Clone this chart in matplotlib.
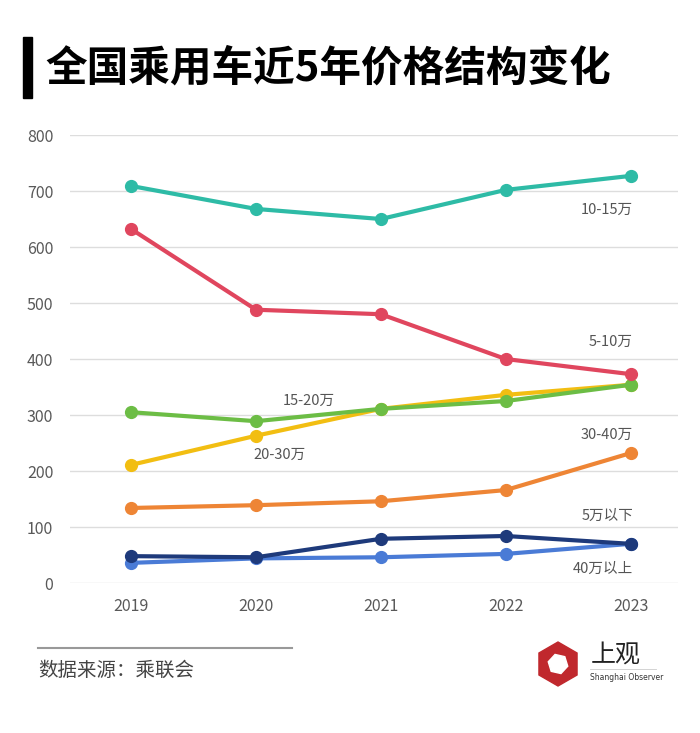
import matplotlib.pyplot as plt
from matplotlib.patches import Rectangle, RegularPolygon

plt.rcParams['font.family'] = ['Noto Sans CJK SC', 'DejaVu Sans']

years = [2019, 2020, 2021, 2022, 2023]
series_names = ['10-15万', '5-10万', '15-20万', '20-30万', '30-40万', '5万以下', '40万以上']
v_10_15 = [709, 668, 650, 702, 727]
v_5_10 = [632, 488, 480, 400, 373]
v_15_20 = [305, 289, 311, 325, 354]
v_20_30 = [211, 263, 311, 336, 354]
v_30_40 = [134, 139, 146, 166, 232]
v_under5 = [48, 46, 79, 84, 70]
v_over40 = [36, 44, 46, 52, 70]
yticks = [0, 100, 200, 300, 400, 500, 600, 700, 800]

colors = ['#2EBBA6', '#E0465E', '#6CBD45', '#F2BE12', '#EE8535', '#1E3A7B', '#4A7BD6']
values = [v_10_15, v_5_10, v_15_20, v_20_30, v_30_40, v_under5, v_over40]
# label anchor (right edge x in years, y in data units)
label_pos = [(2023.02, 666), (2023.02, 430), (2020.63, 325), (2020.40, 228),
             (2023.02, 265), (2023.02, 120), (2023.02, 25)]

fig = plt.figure(figsize=(7, 7.33), dpi=100)
ax = fig.add_axes([0.1, 0.2046, 0.8686, 0.6112])

# draw order: bottom series first so upper ones overlap like the original
order = [6, 5, 4, 3, 2, 1, 0]
for i in order:
    ax.plot(years, values[i], color=colors[i], lw=3, marker='o', ms=8.5,
            solid_capstyle='round', zorder=3)

for name, (lx, ly) in zip(series_names, label_pos):
    ax.text(lx, ly, name, ha='right', va='center', fontsize=10.5, color='#555555')

ax.set_xlim(2018.51, 2023.38)
ax.set_ylim(0, 800)
ax.set_xticks(years)
ax.set_xticklabels([str(y) for y in years])
ax.set_yticks(yticks)
ax.grid(axis='y', color='#dddddd', lw=1)
ax.set_axisbelow(True)
for s in ax.spines.values():
    s.set_visible(False)
ax.tick_params(length=0, labelsize=11.5, colors='#595959')
ax.tick_params(axis='x', pad=11)
ax.tick_params(axis='y', pad=12)

# title with black bar
fig.patches.append(Rectangle((23 / 700, 1 - 98 / 733), 9 / 700, 61 / 733,
                             transform=fig.transFigure, color='black'))
fig.text(45 / 700, 1 - 69 / 733, '全国乘用车近5年价格结构变化', fontsize=30,
         fontweight='heavy', va='center', ha='left', color='black')

# footer
fig.add_artist(plt.Line2D([38 / 700, 292 / 700], [1 - 648 / 733, 1 - 648 / 733],
                          color='#999999', lw=1.5))
fig.text(38 / 700, 1 - 670 / 733, '数据来源：乘联会', fontsize=14, fontweight='light',
         va='center', ha='left', color='#444444')

# logo
logo_ax = fig.add_axes([530 / 700, 1 - 690 / 733, 140 / 700, 52 / 733])
logo_ax.set_xlim(0, 140)
logo_ax.set_ylim(0, 52)
logo_ax.axis('off')
logo_ax.add_patch(RegularPolygon((28, 26), 6, radius=22, orientation=0.0, color='#C0282D'))
logo_ax.add_patch(RegularPolygon((28, 26), 6, radius=10, orientation=0.3, color='white'))
logo_ax.text(61, 35, '上观', fontsize=18, color='#222222', va='center', ha='left')
logo_ax.plot([60, 126], [21, 21], color='#cccccc', lw=0.6)
logo_ax.text(60, 12, 'Shanghai Observer', fontsize=5.5, color='#333333', va='center', ha='left',
             family='DejaVu Sans')

fig.savefig('out.png', dpi=100, facecolor='white')
